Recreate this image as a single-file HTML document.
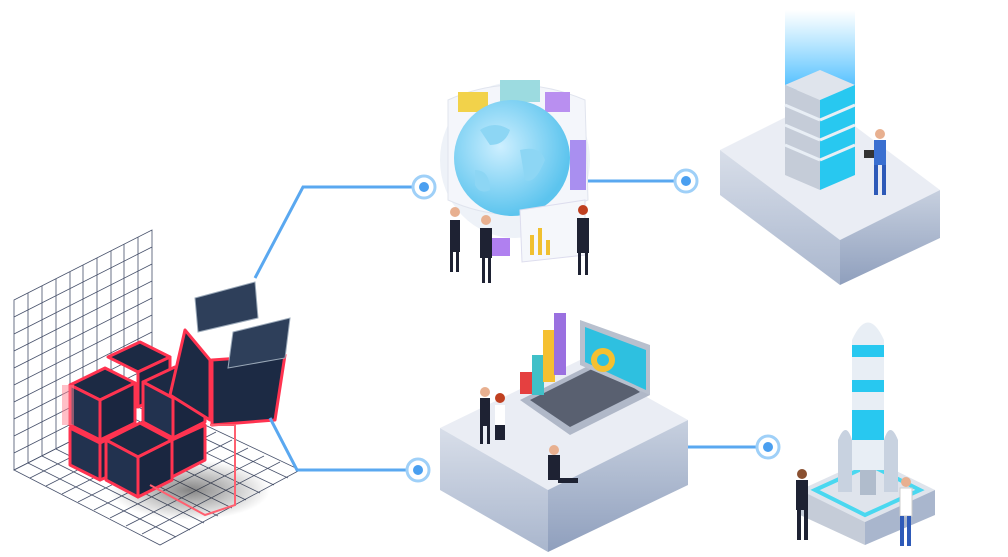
<!DOCTYPE html>
<html><head><meta charset="utf-8"><style>
html,body{margin:0;padding:0;background:#fff;}
svg{display:block;}
</style></head><body>
<svg width="1008" height="557" viewBox="0 0 1008 557" xmlns="http://www.w3.org/2000/svg">
<defs>
<linearGradient id="beam" x1="0" y1="0" x2="0" y2="1"><stop offset="0" stop-color="#4fc3ff" stop-opacity="0"/><stop offset="1" stop-color="#38b6ff" stop-opacity="0.9"/></linearGradient>
<radialGradient id="globe" cx="0.4" cy="0.4" r="0.6"><stop offset="0" stop-color="#cdefff"/><stop offset="1" stop-color="#5cc4ee"/></radialGradient>
<linearGradient id="side1" x1="0" y1="0" x2="0" y2="1"><stop offset="0" stop-color="#d8dee9"/><stop offset="1" stop-color="#a9b6cd"/></linearGradient>
<linearGradient id="side2" x1="0" y1="0" x2="0" y2="1"><stop offset="0" stop-color="#c7d0df"/><stop offset="1" stop-color="#8f9fbd"/></linearGradient>
<radialGradient id="shadow" cx="0.5" cy="0.5" r="0.5"><stop offset="0" stop-color="#333" stop-opacity="0.6"/><stop offset="1" stop-color="#333" stop-opacity="0"/></radialGradient>
</defs>

<!-- grid wall -->
<g stroke="#46506a" stroke-width="0.8" fill="none">
<path d="M14 300 L152 230 L152 400 L14 470 Z"/>
<g id="v">
<path d="M28 293 V463 M42 286 V456 M56 279 V449 M70 272 V442 M83 265 V435 M97 258 V428 M111 251 V421 M124 244 V414 M138 237 V407"/>
</g>
<path d="M14 317 L152 247 M14 334 L152 264 M14 351 L152 281 M14 368 L152 298 M14 385 L152 315 M14 402 L152 332 M14 419 L152 349 M14 436 L152 366 M14 453 L152 383"/>
<!-- floor -->
<path d="M14 470 L152 400 L300 470 L160 545 Z"/>
<path d="M30 478 L168 408 M46 486 L184 416 M62 494 L200 424 M78 502 L216 432 M94 510 L232 440 M110 518 L248 448 M126 526 L264 456 M142 534 L280 462"/>
<path d="M28 463 L176 537 M42 456 L190 530 M56 449 L204 523 M70 442 L218 516 M83 435 L232 508 M97 428 L246 500 M111 421 L260 493 M124 414 L274 485 M138 407 L288 478"/>
</g>
<ellipse cx="190" cy="490" rx="80" ry="30" fill="url(#shadow)"/>

<!-- cubes -->
<g stroke="#ff3350" stroke-width="3" stroke-linejoin="round">
<g fill="#1c2a44">
<polygon points="70,385 105,368 135,383 100,400"/><polygon points="70,385 100,400 100,440 70,425" fill="#22324f"/><polygon points="100,400 135,383 135,423 100,440" fill="#1a2640"/>
<polygon points="108,357 140,342 170,357 138,372"/><polygon points="138,372 170,357 170,392 138,407" fill="#1a2640"/>
<polygon points="143,382 175,367 205,382 173,398"/><polygon points="143,382 173,398 173,438 143,422" fill="#22324f"/><polygon points="173,398 205,382 205,422 173,438" fill="#1a2640"/>
<polygon points="70,428 100,443 100,480 70,465" fill="#22324f"/><polygon points="100,443 135,426 135,465 100,480" fill="#1a2640"/>
<polygon points="106,440 140,423 172,440 138,457"/><polygon points="106,440 138,457 138,497 106,480" fill="#22324f"/><polygon points="138,457 172,440 172,480 138,497" fill="#1a2640"/>
<polygon points="172,440 205,425 205,460 172,477" fill="#1a2640"/>
<polygon points="185,330 210,360 210,420 170,395"/>
<polygon points="212,360 285,355 275,420 212,425"/>
</g>
</g>
<polygon points="195,298 255,282 258,318 198,332" fill="#2e3f5a" stroke="#9aa8b8" stroke-width="1"/>
<polygon points="233,332 290,318 285,358 228,368" fill="#2e3f5a" stroke="#9aa8b8" stroke-width="1"/>
<path d="M210 425 L235 425 L235 505 L205 515 L150 485" fill="none" stroke="#ff6070" stroke-width="2"/>
<rect x="62" y="385" width="12" height="40" fill="#ff8090" opacity="0.5"/>

<!-- connectors -->
<g fill="none" stroke="#5aa8f0" stroke-width="3">
<path d="M255 278 L303 187 L420 187"/>
<path d="M270 418 L297 470 L414 470"/>
<path d="M588 181 L682 181"/>
<path d="M688 447 L764 447"/>
</g>
<g>
<circle cx="424" cy="187" r="11" fill="#fff" stroke="#9fd0f8" stroke-width="3"/><circle cx="424" cy="187" r="5" fill="#4a9ff0"/>
<circle cx="418" cy="470" r="11" fill="#fff" stroke="#9fd0f8" stroke-width="3"/><circle cx="418" cy="470" r="5" fill="#4a9ff0"/>
<circle cx="686" cy="181" r="11" fill="#fff" stroke="#9fd0f8" stroke-width="3"/><circle cx="686" cy="181" r="5" fill="#4a9ff0"/>
<circle cx="768" cy="447" r="11" fill="#fff" stroke="#9fd0f8" stroke-width="3"/><circle cx="768" cy="447" r="5" fill="#4a9ff0"/>
</g>

<!-- globe -->
<ellipse cx="515" cy="160" rx="75" ry="78" fill="#eef2f8"/>
<path d="M448 100 Q515 70 585 100 L588 200 Q515 230 448 200 Z" fill="#f4f6fb" stroke="#e0e4ee"/>
<rect x="458" y="92" width="30" height="20" fill="#f2d24a"/><rect x="500" y="80" width="40" height="22" fill="#9cdbe0"/><rect x="545" y="92" width="25" height="20" fill="#b98ff0"/>
<rect x="570" y="140" width="16" height="50" fill="#a98ff0"/>
<circle cx="512" cy="158" r="58" fill="url(#globe)"/>
<path d="M480 130 q15 -10 30 0 q-5 15 -20 15 z M520 150 q20 -5 25 10 q-10 25 -20 20 z M475 170 q15 0 15 20 q-10 5 -15 -5z" fill="#8dd6f4"/>
<path d="M520 210 L585 200 L585 255 L522 262 Z" fill="#f5f7fb" stroke="#dde"/>
<g fill="#f0c030"><rect x="530" y="235" width="4" height="20"/><rect x="538" y="228" width="4" height="27"/><rect x="546" y="240" width="4" height="15"/></g>
<rect x="490" y="238" width="20" height="18" fill="#b080f0"/>
<g fill="#1e2233">
<rect x="450" y="220" width="10" height="32"/><rect x="480" y="228" width="12" height="30"/><rect x="577" y="218" width="12" height="35"/>
<circle cx="455" cy="212" r="5" fill="#e8b090"/><circle cx="486" cy="220" r="5" fill="#e8b090"/><circle cx="583" cy="210" r="5" fill="#c04020"/>
<rect x="450" y="252" width="3" height="20"/><rect x="456" y="252" width="3" height="20"/><rect x="482" y="258" width="3" height="25"/><rect x="488" y="258" width="3" height="25"/><rect x="578" y="253" width="3" height="22"/><rect x="585" y="253" width="3" height="22"/>
</g>

<!-- server platform -->
<rect x="785" y="10" width="70" height="80" fill="url(#beam)"/>
<polygon points="720,150 820,100 940,190 840,240" fill="#eaedf4"/>
<polygon points="720,150 840,240 840,285 720,195" fill="url(#side1)"/>
<polygon points="840,240 940,190 940,238 840,285" fill="url(#side2)"/>
<g>
<polygon points="785,85 820,70 855,85 820,100" fill="#dfe4ec"/>
<polygon points="785,85 820,100 820,190 785,175" fill="#c5ccd8"/>
<polygon points="820,100 855,85 855,175 820,190" fill="#28c8f0"/>
<g stroke="#e8eef5" stroke-width="3"><path d="M820 120 L855 105 M820 140 L855 125 M820 160 L855 145 M785 105 L820 120 M785 125 L820 140 M785 145 L820 160"/></g>
</g>
<rect x="874" y="140" width="12" height="25" fill="#3a6fd0"/><circle cx="880" cy="134" r="5" fill="#e8b090"/>
<rect x="874" y="165" width="4" height="30" fill="#2e5ab8"/><rect x="882" y="165" width="4" height="30" fill="#2e5ab8"/>
<rect x="864" y="150" width="10" height="8" fill="#333"/>

<!-- bottom center platform -->
<polygon points="440,428 580,360 688,420 548,490" fill="#eaedf4"/>
<polygon points="440,428 548,490 548,552 440,490" fill="url(#side1)"/>
<polygon points="548,490 688,420 688,485 548,552" fill="url(#side2)"/>
<polygon points="520,400 600,360 650,395 570,435" fill="#b0b8c8"/>
<polygon points="530,400 600,365 640,392 570,427" fill="#596070"/>
<polygon points="580,320 650,345 650,395 580,365" fill="#b8c0ce"/>
<polygon points="585,327 646,350 646,390 585,362" fill="#2ec0e0"/>
<circle cx="603" cy="360" r="12" fill="#f5c030"/><circle cx="603" cy="360" r="6" fill="#2ec0e0"/>
<g><rect x="520" y="372" width="12" height="22" fill="#e54040"/><rect x="532" y="355" width="12" height="40" fill="#40c0c8"/><rect x="543" y="330" width="12" height="52" fill="#f5c030"/><rect x="554" y="313" width="12" height="62" fill="#9a70e0"/></g>
<g fill="#1e2233"><rect x="480" y="398" width="10" height="28"/><circle cx="485" cy="392" r="5" fill="#e8b090"/><rect x="480" y="426" width="3" height="18"/><rect x="487" y="426" width="3" height="18"/>
<rect x="495" y="405" width="10" height="20" fill="#fff"/><circle cx="500" cy="398" r="5" fill="#c04020"/><rect x="495" y="425" width="10" height="15"/>
<rect x="548" y="455" width="12" height="25"/><circle cx="554" cy="450" r="5" fill="#e8b090"/><rect x="558" y="478" width="20" height="5"/></g>

<!-- rocket -->
<polygon points="800,490 870,458 935,490 865,522" fill="#dfe4ec"/>
<polygon points="800,490 865,522 865,545 800,515" fill="#c5ccd8"/>
<polygon points="865,522 935,490 935,515 865,545" fill="#a9b6cd"/>
<polygon points="815,490 870,465 920,490 865,515" fill="none" stroke="#4ad8f0" stroke-width="4"/>
<path d="M852 340 Q868 305 884 340 L884 470 L852 470 Z" fill="#e8eef5"/>
<g fill="#28c8f0"><rect x="852" y="345" width="32" height="12"/><rect x="852" y="380" width="32" height="12"/><rect x="852" y="410" width="32" height="30"/></g>
<path d="M838 440 Q846 420 852 440 L852 492 L838 492 Z M884 440 Q890 420 898 440 L898 492 L884 492 Z" fill="#c8d2e0"/>
<rect x="860" y="470" width="16" height="25" fill="#b0bccc"/>
<g fill="#1e2233"><rect x="796" y="480" width="12" height="30"/><circle cx="802" cy="474" r="5" fill="#8a5030"/><rect x="797" y="510" width="4" height="30"/><rect x="804" y="510" width="4" height="30"/></g>
<rect x="900" y="488" width="12" height="28" fill="#fff" stroke="#ccc"/><circle cx="906" cy="482" r="5" fill="#e8b090"/>
<rect x="900" y="516" width="4" height="30" fill="#2e5ab8"/><rect x="907" y="516" width="4" height="30" fill="#2e5ab8"/>
</svg>
</body></html>
